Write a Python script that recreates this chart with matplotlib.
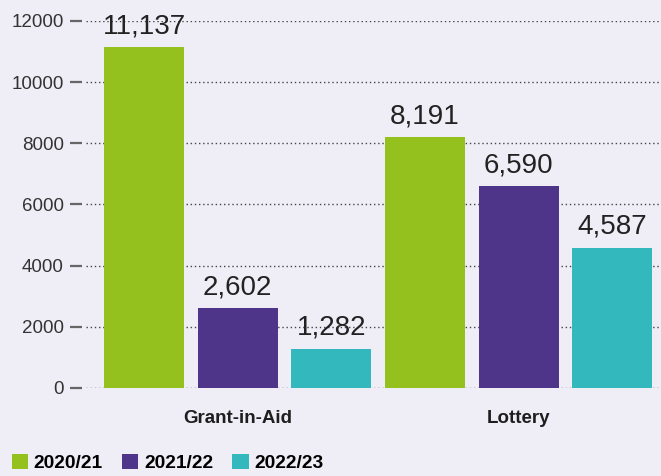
import numpy as np
import matplotlib.pyplot as plt
from matplotlib.patches import Patch

# datos
categorias = ['Grant-in-Aid', 'Lottery']
periodos = ['2020/21', '2021/22', '2022/23']
grant_in_aid = [11137, 2602, 1282]
lottery = [8191, 6590, 4587]
colores = ['#95c11f', '#4e358a', '#33b8bd']
fondo = '#efedf6'

plt.rcParams['font.family'] = ['Liberation Sans', 'DejaVu Sans']

fig = plt.figure(figsize=(6.61, 4.76), dpi=100, facecolor=fondo)
ax = fig.add_axes([0.130, 0.185, 0.870, 0.771], facecolor=fondo)

valores = grant_in_aid + lottery
x = np.arange(len(valores))
cols = colores * len(categorias)
ax.bar(x, valores, width=0.855, color=cols, zorder=3)

for xi, v in zip(x, valores):
    ax.annotate(f'{v:,}', (xi, v), xytext=(0, 6), textcoords='offset points',
                ha='center', va='bottom', fontsize=20, color='#222222',
                zorder=4, annotation_clip=False)

ax.set_xlim(-0.62, 5.52)
ax.set_ylim(0, 12000)
ax.set_yticks(np.arange(0, 12001, 2000))
ax.yaxis.grid(True, linestyle=(0, (1, 2)), color='#444444', linewidth=1, zorder=0)
ax.set_axisbelow(True)

for s in ['top', 'right', 'bottom']:
    ax.spines[s].set_visible(False)
ax.spines['left'].set_position(('outward', 3))
ax.spines['left'].set_visible(False)
ax.tick_params(axis='y', length=9, width=1.6, color='#666666', pad=4,
               labelsize=13.5, labelcolor='#333333')

# etiquetas de grupo
ax.set_xticks([1, 4])
ax.set_xticklabels(categorias, fontsize=13.5, fontweight='bold', color='#1e1e1e')
ax.tick_params(axis='x', length=0, pad=16)

handles = [Patch(facecolor=c, edgecolor='none') for c in colores]
fig.legend(handles, periodos, loc='lower left', bbox_to_anchor=(0.012, 0.0),
           ncol=3, frameon=False, prop={'size': 13.8, 'weight': 'bold'},
           handlelength=0.85, handleheight=0.85, handletextpad=0.3,
           columnspacing=1.0, borderpad=0.2, borderaxespad=0.0)

fig.savefig('out.png', dpi=100, facecolor=fondo)
